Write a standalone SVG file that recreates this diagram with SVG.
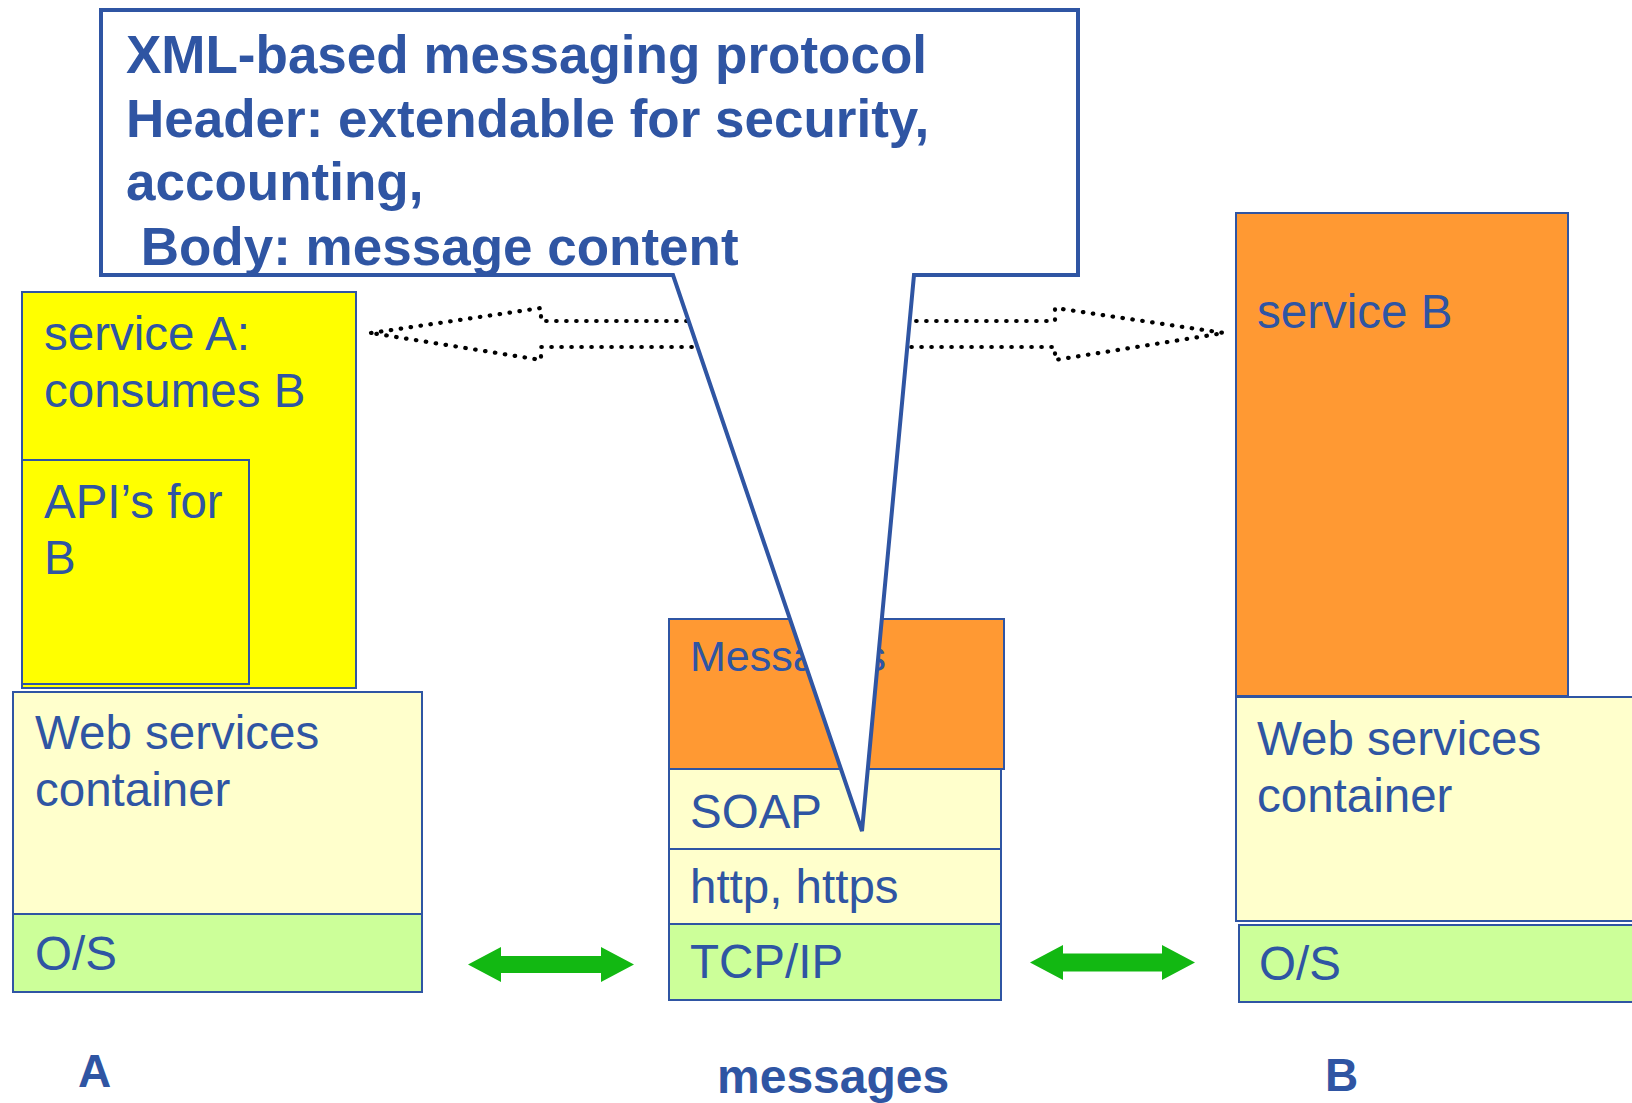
<svg xmlns="http://www.w3.org/2000/svg" width="1632" height="1103" viewBox="0 0 1632 1103">
<style>
.box{stroke:#2F55A3;stroke-width:2}
.y{fill:#FFFF00}
.py{fill:#FFFFCC}
.g{fill:#CCFF99}
.o{fill:#FF9933}
.t{font-family:"Liberation Sans",Arial,sans-serif;font-size:47.5px;fill:#2F55A3}
.b{font-family:"Liberation Sans",Arial,sans-serif;font-weight:bold;fill:#2F55A3}
.dot{fill:none;stroke:#000;stroke-width:4.2;stroke-linecap:round;stroke-dasharray:0.5 9.5}
.garrow{fill:#12B812}
</style>
<rect width="1632" height="1103" fill="#fff"/>

<g id="serviceA">
<rect class="box y" x="22" y="292" width="334" height="396"/>
<text class="t" x="44" y="350">service A:</text>
<text class="t" x="44" y="407">consumes B</text>
</g>
<g id="apiB">
<rect class="box y" x="22" y="460" width="227" height="224"/>
<text class="t" x="44" y="518">API’s for</text>
<text class="t" x="44" y="574">B</text>
</g>
<g id="containerA">
<rect class="box py" x="13" y="692" width="409" height="222"/>
<text class="t" x="35" y="749">Web services</text>
<text class="t" x="35" y="806">container</text>
</g>
<g id="osA">
<rect class="box g" x="13" y="914" width="409" height="78"/>
<text class="t" x="35" y="970">O/S</text>
</g>

<g id="messages">
<rect class="box o" x="669" y="619" width="335" height="150"/>
<text class="t" x="690" y="671" style="font-size:43px">Messages</text>
</g>
<g id="soap">
<rect class="box py" x="669" y="769" width="332" height="80"/>
<text class="t" x="690" y="828">SOAP</text>
</g>
<g id="http">
<rect class="box py" x="669" y="849" width="332" height="75"/>
<text class="t" x="690" y="903">http, https</text>
</g>
<g id="tcpip">
<rect class="box g" x="669" y="924" width="332" height="76"/>
<text class="t" x="690" y="978">TCP/IP</text>
</g>

<g id="serviceB">
<rect class="box o" x="1236" y="213" width="332" height="483"/>
<text class="t" x="1257" y="328">service B</text>
</g>
<g id="containerB">
<rect class="box py" x="1236" y="697" width="410" height="224"/>
<text class="t" x="1257" y="755">Web services</text>
<text class="t" x="1257" y="812">container</text>
</g>
<g id="osB">
<rect class="box g" x="1239" y="925" width="410" height="77"/>
<text class="t" x="1259" y="980">O/S</text>
</g>

<g id="connectors">
<path class="dot" d="M371,333 L541,308 L541,321 L1055,321 L1055,308 L1224,333 L1055,360 L1055,347 L541,347 L541,360 Z"/>
<path class="garrow" d="M468,964.5 L501,947 L501,956 L601,956 L601,947 L634,964.5 L601,982 L601,973 L501,973 L501,982 Z"/>
<path class="garrow" d="M1030,962.5 L1063,945 L1063,953.5 L1162,953.5 L1162,945 L1195,962.5 L1162,980 L1162,971.5 L1063,971.5 L1063,980 Z"/>
</g>

<g id="callout">
<path d="M101,10 L1078,10 L1078,275 L914,275 L862,831 L673,275 L101,275 Z" fill="#fff" stroke="#2F55A3" stroke-width="4" stroke-linejoin="miter"/>
<text class="b" x="126" y="73" style="font-size:53px">XML-based messaging protocol</text>
<text class="b" x="126" y="137" style="font-size:53px">Header: extendable for security,</text>
<text class="b" x="126" y="200" style="font-size:53px">accounting,</text>
<text class="b" x="126" y="265" style="font-size:53px" xml:space="preserve"> Body: message content</text>
</g>

<g id="labels">
<text class="b" x="78" y="1087" style="font-size:46px">A</text>
<text class="b" x="717" y="1093" style="font-size:48px">messages</text>
<text class="b" x="1325" y="1091" style="font-size:46px">B</text>
</g>
</svg>
